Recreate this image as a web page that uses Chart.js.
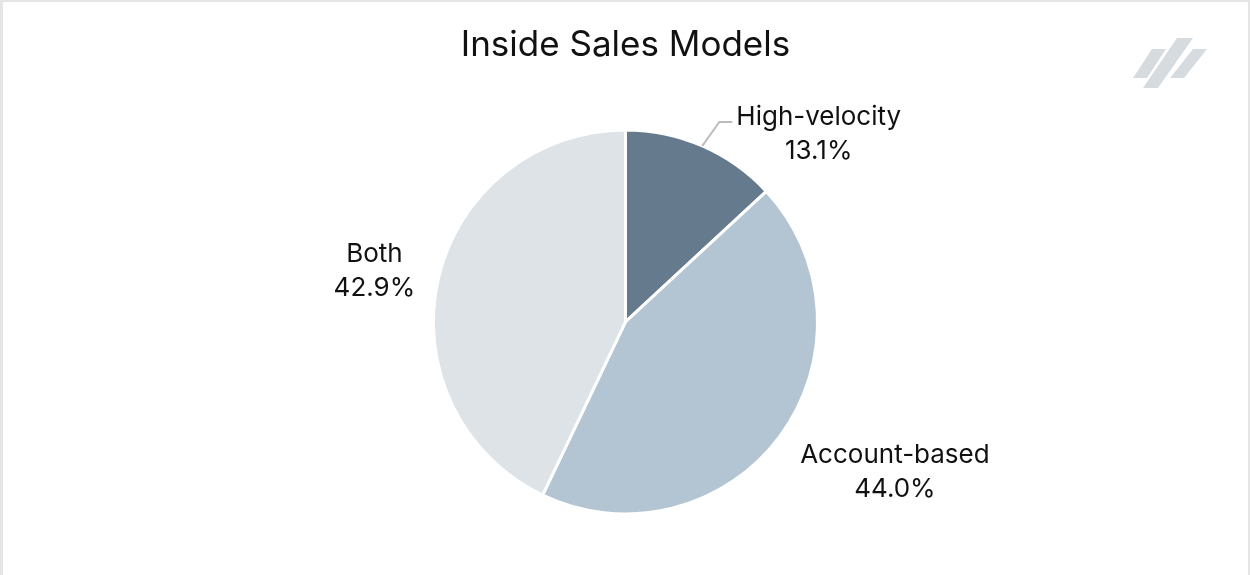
<!DOCTYPE html>
<html>
<head>
<meta charset="utf-8">
<script src="https://cdn.jsdelivr.net/npm/chart.js@4"></script>
<style>
  html, body { margin: 0; padding: 0; background: #fff; }
  #wrap {
    position: absolute; left: 0; top: 0; width: 1250px; height: 575px;
    box-sizing: border-box;
    border-top: 2px solid #e5e5e5; border-left: 3px solid #e5e5e5; border-right: 2px solid #e5e5e5;
  }
  #chart { display: block; }
</style>
</head>
<body>
<div id="wrap"><canvas id="chart" width="1245" height="573"></canvas></div>
<script>
const categories = ['High-velocity', 'Account-based', 'Both'];
const shares = [13.1, 44.0, 42.9];
const colors = ['#667a8e', '#b3c5d3', '#dee3e8'];

const FONT = 'Inter, "Noto Sans", sans-serif';

// label placement relative to the slice's outer edge at its mid angle
const labelPlacement = [
  { dx: 34, dy: -21, side: 'left', leader: true },
  { dx: 20, dy: 27, side: 'left' },
  { dx: -23, dy: -17, side: 'right' }
];

const outsideLabels = {
  id: 'outsideLabels',
  afterDatasetsDraw(chart) {
    const ctx = chart.ctx;
    const meta = chart.getDatasetMeta(0);
    ctx.save();
    ctx.font = '26px ' + FONT;
    ctx.fillStyle = '#111';
    ctx.textBaseline = 'alphabetic';
    ctx.textAlign = 'center';
    meta.data.forEach((arc, i) => {
      const p = arc.getProps(['x', 'y', 'startAngle', 'endAngle', 'outerRadius'], true);
      const mid = (p.startAngle + p.endAngle) / 2;
      const ex = p.x + Math.cos(mid) * p.outerRadius;
      const ey = p.y + Math.sin(mid) * p.outerRadius;
      const pl = labelPlacement[i];
      const ax = ex + pl.dx, ay = ey + pl.dy;
      const lines = [categories[i], shares[i].toFixed(1) + '%'];
      const w = Math.max(...lines.map(t => ctx.measureText(t).width));
      const cx = pl.side === 'left' ? ax + w / 2 : ax - w / 2;
      lines.forEach((t, k) => ctx.fillText(t, cx, ay + k * 34));
      if (pl.leader) {
        ctx.beginPath();
        ctx.strokeStyle = '#bdbdbd';
        ctx.lineWidth = 2;
        ctx.moveTo(ex, ey);
        ctx.lineTo(ex + 17, ay - 3);
        ctx.lineTo(ax - 4, ay - 3);
        ctx.stroke();
      }
    });
    ctx.restore();
  }
};

const logo = {
  id: 'logo',
  afterDraw(chart) {
    const ctx = chart.ctx;
    const ox = -3, oy = -2;
    ctx.save();
    ctx.fillStyle = '#d6dbe0';
    const bars = [
      [[1152, 49], [1166, 49], [1147, 78], [1133, 78]],
      [[1177, 38], [1193, 38], [1158, 88], [1143, 88]],
      [[1193, 49], [1207, 49], [1184, 78], [1170, 78]]
    ];
    bars.forEach(b => {
      ctx.beginPath();
      b.forEach(([x, y], k) => k ? ctx.lineTo(x + ox, y + oy) : ctx.moveTo(x + ox, y + oy));
      ctx.closePath();
      ctx.fill();
    });
    ctx.restore();
  }
};

new Chart(document.getElementById('chart'), {
  type: 'pie',
  data: {
    labels: categories,
    datasets: [{
      data: shares,
      backgroundColor: colors,
      borderColor: '#ffffff',
      borderWidth: 3
    }]
  },
  options: {
    responsive: false,
    animation: false,
    layout: { padding: { bottom: 59.5 } },
    plugins: {
      legend: { display: false },
      tooltip: { enabled: false },
      title: {
        display: true,
        text: 'Inside Sales Models',
        color: '#111',
        font: { family: FONT, size: 35, weight: 'normal', lineHeight: 1.2 },
        padding: { top: 22, bottom: 62.4 }
      }
    }
  },
  plugins: [outsideLabels, logo]
});
</script>
</body>
</html>
